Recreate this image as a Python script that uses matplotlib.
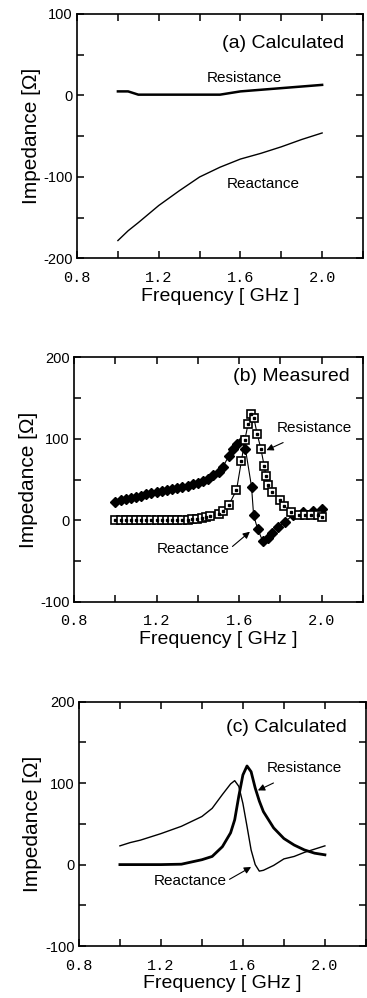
import numpy as np
import matplotlib
matplotlib.use("Agg")
import matplotlib.pyplot as plt

plt.rcParams['font.family'] = ['Liberation Sans', 'DejaVu Sans']

# (a) calculated
a_freq = [1.00, 1.05, 1.10, 1.20, 1.30, 1.40, 1.50, 1.60, 1.70, 1.80, 1.90, 2.00]
a_res = [5, 5, 1, 1, 1, 1, 1, 5, 7, 9, 11, 13]
a_rea = [-178, -166, -156, -135, -117, -100, -88, -78, -71, -63, -54, -46]

# (b) measured
b_rea_freq = [1.00, 1.025, 1.05, 1.075, 1.10, 1.125, 1.15, 1.175, 1.20, 1.225, 1.25,
              1.275, 1.30, 1.325, 1.35, 1.375, 1.40, 1.425, 1.45, 1.475, 1.50, 1.52,
              1.55, 1.57, 1.59, 1.62, 1.63, 1.66, 1.67, 1.69, 1.715, 1.74, 1.76,
              1.79, 1.82, 1.86, 1.91, 1.96, 2.00]
b_rea = [23, 25, 26, 27, 29, 30, 32, 33, 35, 36, 37, 39, 40, 41, 42, 44, 46, 48, 51,
         55, 59, 65, 79, 88, 94, 98, 88, 41, 6, -11, -26, -22, -15, -8, -2, 6, 10, 12, 14]
b_res_freq = [1.00, 1.025, 1.05, 1.075, 1.10, 1.125, 1.15, 1.175, 1.20, 1.225, 1.25,
              1.275, 1.30, 1.325, 1.35, 1.37, 1.395, 1.42, 1.44, 1.46, 1.50, 1.52,
              1.55, 1.587, 1.611, 1.627, 1.643, 1.656, 1.671, 1.687, 1.705, 1.721,
              1.73, 1.74, 1.761, 1.797, 1.818, 1.853, 1.89, 1.92, 1.95, 1.98, 2.00]
b_res = [0, 0, 0, 0, 0, 0, 0, 0, 0, 0, 0, 0, 0, 0, 0, 2, 2, 3, 4, 5, 8, 11, 19, 37,
         73, 98, 118, 130, 126, 106, 88, 67, 54, 43, 35, 25, 17, 10, 7, 6, 6, 6, 4]

# (c) calculated
c_freq = [1.00, 1.05, 1.10, 1.20, 1.30, 1.40, 1.45, 1.50, 1.54, 1.56, 1.58, 1.60,
          1.62, 1.64, 1.66, 1.68, 1.70, 1.75, 1.80, 1.85, 1.90, 1.95, 2.00]
c_rea = [23, 27, 30, 38, 47, 59, 69, 86, 99, 103, 96, 75, 47, 18, 0, -8, -7, -1,
         7, 10, 15, 19, 23]
c_res = [0, 0, 0, 0, 0.5, 6, 10, 22, 39, 55, 84, 110, 121, 114, 94, 78, 65, 45,
         32, 24, 18, 14, 12]

xticks = [0.8, 1.0, 1.2, 1.4, 1.6, 1.8, 2.0, 2.2]
xlabels = ['0.8', '', '1.2', '', '1.6', '', '2.0', '']

fig = plt.figure(figsize=(3.67, 9.98), dpi=100)
ax_a = fig.add_axes([0.210, 0.741, 0.779, 0.245])
ax_b = fig.add_axes([0.202, 0.397, 0.787, 0.245])
ax_c = fig.add_axes([0.215, 0.052, 0.782, 0.245])


def style(ax, ylo, yhi):
    ax.set_xlim(0.8, 2.2)
    ax.set_ylim(ylo, yhi)
    ax.set_xticks(xticks)
    ax.set_xticklabels(xlabels, family='Liberation Mono', fontsize=11)
    yt = np.arange(ylo, yhi + 1, 50)
    ax.set_yticks(yt)
    ax.set_yticklabels([str(int(v)) if v % 100 == 0 else '' for v in yt], fontsize=10.5)
    ax.tick_params(direction='in', top=True, right=True, length=5, width=1.1, pad=3)
    ax.tick_params(axis='x', pad=9)
    for s in ax.spines.values():
        s.set_linewidth(1.2)
    ax.set_xlabel('Frequency [ GHz ]', fontsize=14, labelpad=2)
    ax.set_ylabel('Impedance [\u03a9]', fontsize=15, labelpad=2)


# (a)
ax_a.plot(a_freq, a_res, color='black', lw=1.8)
ax_a.plot(a_freq, a_rea, color='black', lw=1.0)
style(ax_a, -200, 100)
ax_a.text(2.11, 64, '(a) Calculated', ha='right', va='center', fontsize=14)
ax_a.text(1.62, 22, 'Resistance', ha='center', va='center', fontsize=11)
ax_a.text(1.71, -109, 'Reactance', ha='center', va='center', fontsize=11)

# (b)
ax_b.plot(b_rea_freq, b_rea, color='black', lw=0.8, marker='D', ms=4.8,
          mfc='black', mec='black')
ax_b.plot(b_res_freq, b_res, color='black', lw=0.8, marker='s', ms=5.6,
          mfc='white', mec='black', mew=1.2)
ax_b.plot(b_res_freq, b_res, ls='none', marker='s', ms=1.5, mfc='black', mec='black')
style(ax_b, -100, 200)
ax_b.text(2.135, 176, '(b) Measured', ha='right', va='center', fontsize=14)
ax_b.annotate('Resistance', xy=(1.732, 86), xytext=(1.966, 113), ha='center',
              va='center', fontsize=11,
              arrowprops=dict(arrowstyle='-|>', color='black', lw=0.8,
                              shrinkA=8, shrinkB=0, mutation_scale=10))
ax_b.annotate('Reactance', xy=(1.652, -14), xytext=(1.377, -35), ha='center',
              va='center', fontsize=11,
              arrowprops=dict(arrowstyle='-|>', color='black', lw=0.8,
                              shrinkA=0, shrinkB=0, mutation_scale=10,
                              relpos=(1.0, 0.5)))

# (c)
ax_c.plot(c_freq, c_rea, color='black', lw=1.0)
ax_c.plot(c_freq, c_res, color='black', lw=2.0)
style(ax_c, -100, 200)
ax_c.text(2.107, 168, '(c) Calculated', ha='right', va='center', fontsize=14)
ax_c.annotate('Resistance', xy=(1.673, 91), xytext=(1.898, 118), ha='center',
              va='center', fontsize=11,
              arrowprops=dict(arrowstyle='-|>', color='black', lw=0.8,
                              shrinkA=8, shrinkB=0, mutation_scale=10))
ax_c.annotate('Reactance', xy=(1.64, -3), xytext=(1.343, -20), ha='center',
              va='center', fontsize=11,
              arrowprops=dict(arrowstyle='-|>', color='black', lw=0.8,
                              shrinkA=0, shrinkB=0, mutation_scale=10,
                              relpos=(1.0, 0.5)))

fig.savefig('out.png', dpi=100)
